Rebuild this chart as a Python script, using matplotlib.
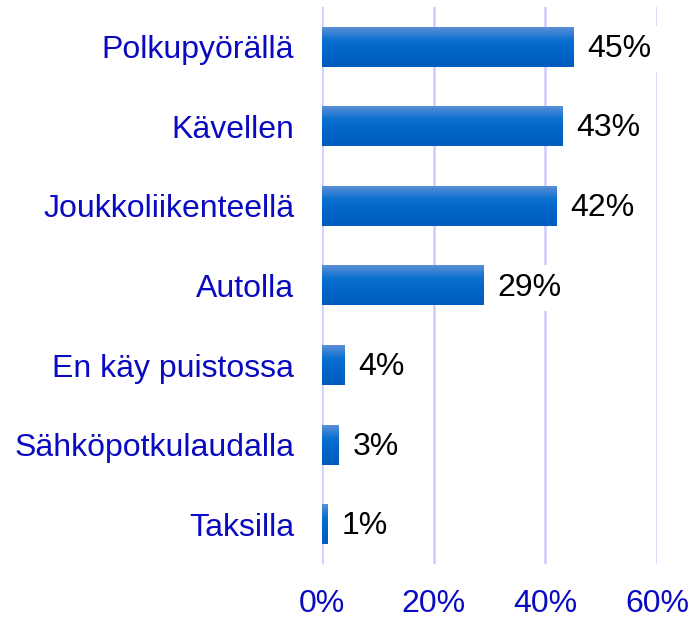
import matplotlib
matplotlib.use("Agg")
import matplotlib.pyplot as plt
import numpy as np
from matplotlib.colors import LinearSegmentedColormap

categories = ["Polkupyörällä", "Kävellen", "Joukkoliikenteellä", "Autolla",
              "En käy puistossa", "Sähköpotkulaudalla", "Taksilla"]
values = [45, 43, 42, 29, 4, 3, 1]
xticks = [0, 20, 40, 60]
xtick_labels = ["0%", "20%", "40%", "60%"]

plt.rcParams['font.family'] = ['Liberation Sans', 'DejaVu Sans']

fig = plt.figure(figsize=(6.94, 6.18), dpi=100)
ax = fig.add_axes([322/694, 54/618, 335/694, 557/618])

ypos = np.arange(len(categories))
bars = ax.barh(ypos, values, height=0.5, color="#0066cc", zorder=2)

cmap = LinearSegmentedColormap.from_list("g", ["#5a8fd6", "#0a6fd0", "#0063c6", "#005cbf"])
grad = np.linspace(0, 1, 64).reshape(-1, 1)
for b in bars:
    x0, y0 = b.get_x(), b.get_y()
    w, h = b.get_width(), b.get_height()
    ax.imshow(grad, extent=(x0, x0 + w, y0 + h, y0), cmap=cmap, aspect="auto",
              origin="upper", zorder=3, interpolation="bilinear")

for b, v in zip(bars, values):
    ax.annotate(f"{v}%", (b.get_width(), b.get_y() + b.get_height() / 2),
                xytext=(10, -1.5), textcoords="offset points", ha="left", va="center",
                fontsize=23, color="black", zorder=5,
                bbox=dict(boxstyle="square,pad=0.25", fc="white", ec="none"))

ax.set_xlim(0, 60)
ax.set_ylim(len(categories) - 0.5, -0.5)
ax.set_xticks(xticks)
ax.set_xticklabels(xtick_labels)
ax.set_yticks(ypos)
ax.set_yticklabels(categories)
ax.tick_params(axis="both", length=0, labelsize=23, labelcolor="#0a0ac0")
ax.tick_params(axis="y", pad=20)
ax.tick_params(axis="x", pad=18)
ax.grid(axis="x", color="#ccccff", linewidth=1.8, zorder=0)
ax.set_axisbelow(True)
for s in ax.spines.values():
    s.set_visible(False)

fig.savefig("out.png", dpi=100)
